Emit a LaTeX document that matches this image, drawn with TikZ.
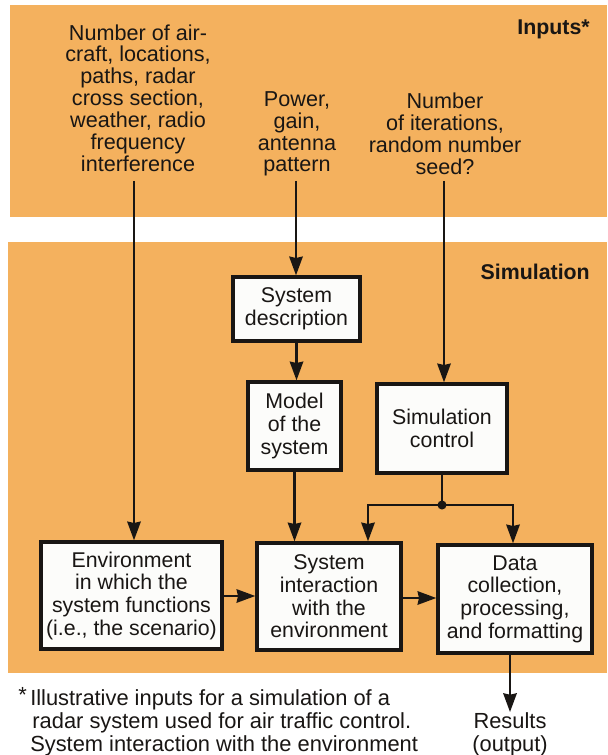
\documentclass[tikz,border=0pt]{standalone}
\usepackage{fontspec}
\setmainfont{Liberation Sans}
\usetikzlibrary{arrows.meta}
\definecolor{panel}{RGB}{244,177,94}
\definecolor{ink}{RGB}{25,22,20}
\definecolor{boxfill}{RGB}{252,252,250}
\tikzset{
  panelbg/.style={fill=panel, draw=none},
  intext/.style={align=center, inner sep=0pt, text=ink, font=\fontsize{16.2}{16.4}\selectfont},
  boxnode/.style={draw=ink, fill=boxfill, line width=2.5pt, align=center, text=ink,
    inner sep=0pt, font=\fontsize{16}{17}\selectfont,
    preaction={fill=ink, transform canvas={shift={(1pt,-1pt)}}}},
  arr/.style={draw=ink, line width=2pt, -{Stealth[length=14pt,width=10pt,inset=1pt]}},
  ln/.style={draw=ink, line width=2pt},
  title/.style={anchor=east, inner sep=0pt, text=ink, font=\fontsize{16}{18}\selectfont\bfseries},
}
\begin{document}
\begin{tikzpicture}[x=0.75pt, y=-0.75pt]
\useasboundingbox (0,0) rectangle (607,755);
\fill[white] (0,0) rectangle (607,755);
% panels
\fill[panelbg] (10,5) rectangle (607,217);
\fill[panelbg] (8,242) rectangle (607,673);
% titles
\node[title] (inputs) at (590,29) {Inputs*};
\node[title] (simt) at (590,272) {Simulation};
% inputs
\node[intext] (in1) at (138,98) {Number of air-\\craft, locations,\\paths, radar\\cross section,\\weather, radio\\frequency\\interference};
\node[intext] (in2) at (297,134) {Power,\\gain,\\antenna\\pattern};
\node[intext] (in3) at (445,134) {Number\\of iterations,\\random number\\seed?};
% boxes
\node[boxnode, minimum width=95.25pt, minimum height=48pt] (sysdesc) at (296.5,309) {System\\description};
\node[boxnode, minimum width=69.75pt, minimum height=66pt] (model) at (294.5,426) {Model\\of the\\system};
\node[boxnode, minimum width=97.5pt, minimum height=66.75pt] (simctl) at (442,428.5) {Simulation\\control};
\node[boxnode, minimum width=135.75pt, minimum height=80.25pt] (env) at (131.5,595.5) {Environment\\in which the\\system functions\\(i.e., the scenario)};
\node[boxnode, minimum width=108pt, minimum height=80.25pt] (sysint) at (329,596.5) {System\\interaction\\with the\\environment};
\node[boxnode, minimum width=115.5pt, minimum height=81pt] (data) at (515,599) {Data\\collection,\\processing,\\and formatting};
% results and footnote
\node[intext, font=\fontsize{16.4}{17.25}\selectfont] (results) at (510,734) {Results\\(output)};
\node[intext, anchor=north west, align=left, font=\fontsize{16.4}{17.25}\selectfont] (foot) at (30,687)
  {\llap{\raisebox{0.15em}{*}\hspace{0.15em}}Illustrative inputs for a simulation of a\\
   \hspace{0.1em}radar system used for air traffic control.\\
   System interaction with the environment};
% connectors
\coordinate (t1) at (134,181);
\coordinate (t2) at (296,181);
\coordinate (t3) at (444,181);
\coordinate (j) at (442,505);
\coordinate (b1) at (368,505);
\coordinate (b2) at (513,505);
\draw[arr] (t1) -- (t1 |- env.north);
\draw[arr] (t2) -- (t2 |- sysdesc.north);
\draw[arr] (t3) -- (t3 |- simctl.north);
\draw[arr] (sysdesc.south) -- (sysdesc.south |- model.north);
\draw[arr] (model.south) -- (model.south |- sysint.north);
\draw[ln] (simctl.south) -- (j);
\draw[arr] (j) -- (b1) -- (b1 |- sysint.north);
\draw[arr] (j) -- (b2) -- (b2 |- data.north);
\fill[ink] (j) circle (3.4pt);
\draw[arr] (env.east |- 0,596) -- (sysint.west |- 0,596);
\draw[arr] (sysint.east |- 0,598) -- (data.west |- 0,598);
\draw[arr] (data.south -| results.north) -- (results.north);
\end{tikzpicture}
\end{document}
